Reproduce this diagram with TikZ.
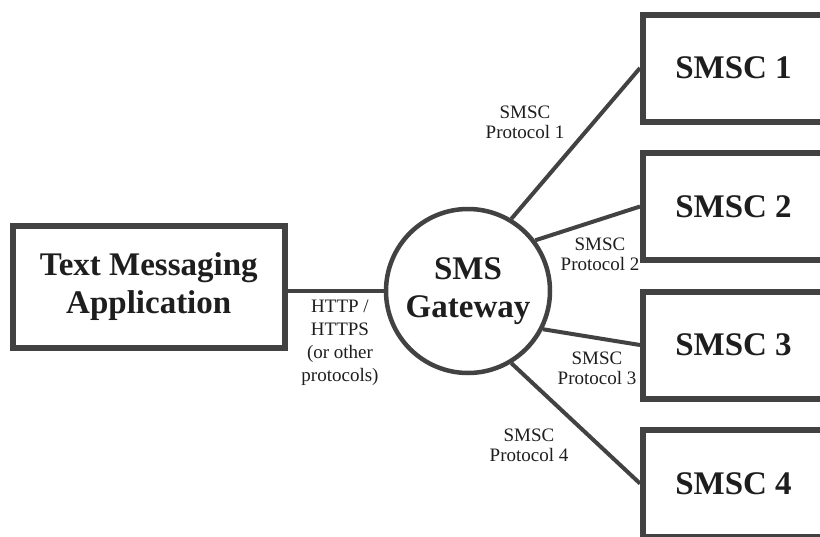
\documentclass[tikz,border=0pt]{standalone}
\usepackage{fontspec}
\setmainfont{Liberation Serif}
\definecolor{linegray}{RGB}{66,66,66}
\definecolor{textgray}{RGB}{30,30,30}
\tikzset{
  bigbox/.style={draw=linegray, line width=3pt, inner sep=0pt, align=center,
    text=textgray, font=\fontsize{16.5}{19}\selectfont\bfseries},
  smscbox/.style={bigbox, minimum width=90.5pt, minimum height=53.5pt},
  gate/.style={bigbox, circle, line width=2.25pt, minimum size=82pt},
  proto/.style={align=center, text=textgray, font=\fontsize{9.5}{10}\selectfont},
  link/.style={draw=linegray, line width=2pt}
}

\begin{document}
\begin{tikzpicture}[x=0.5pt,y=-0.5pt]
  \path[use as bounding box, fill=white] (0,0) rectangle (820,536);
  \node[bigbox, minimum width=136.25pt, minimum height=61pt] at (148.75,287) (app) {Text Messaging\\Application};
  \node[gate] at (468,291) (gw) {SMS\\Gateway};
  \node[smscbox] at (733.5,68) (smsc1) {SMSC 1};
  \node[smscbox] at (733.5,206.5) (smsc2) {SMSC 2};
  \node[smscbox] at (733.5,345) (smsc3) {SMSC 3};
  \node[smscbox] at (733.5,483.5) (smsc4) {SMSC 4};
  % connector labels
  \node[proto, font=\fontsize{9.5}{11.5}\selectfont] at (340,343) (http) {HTTP /\\HTTPS\\(or other\\protocols)};
  \node[proto] at (525,122) (prot1) {SMSC\\Protocol 1};
  \node[proto] at (600,254) (prot2) {SMSC\\Protocol 2};
  \node[proto] at (597,368) (prot3) {SMSC\\Protocol 3};
  \node[proto] at (529,445) (prot4) {SMSC\\Protocol 4};
  \draw[link] (gw.west -| app.east) -- (gw.west);
  \draw[link] (gw.59) -- (smsc1.west);
  \draw[link] (gw.37) -- (smsc2.west);
  \draw[link] (gw.-27) -- (smsc3.west);
  \draw[link] (gw.-59) -- (smsc4.west);
\end{tikzpicture}
\end{document}
